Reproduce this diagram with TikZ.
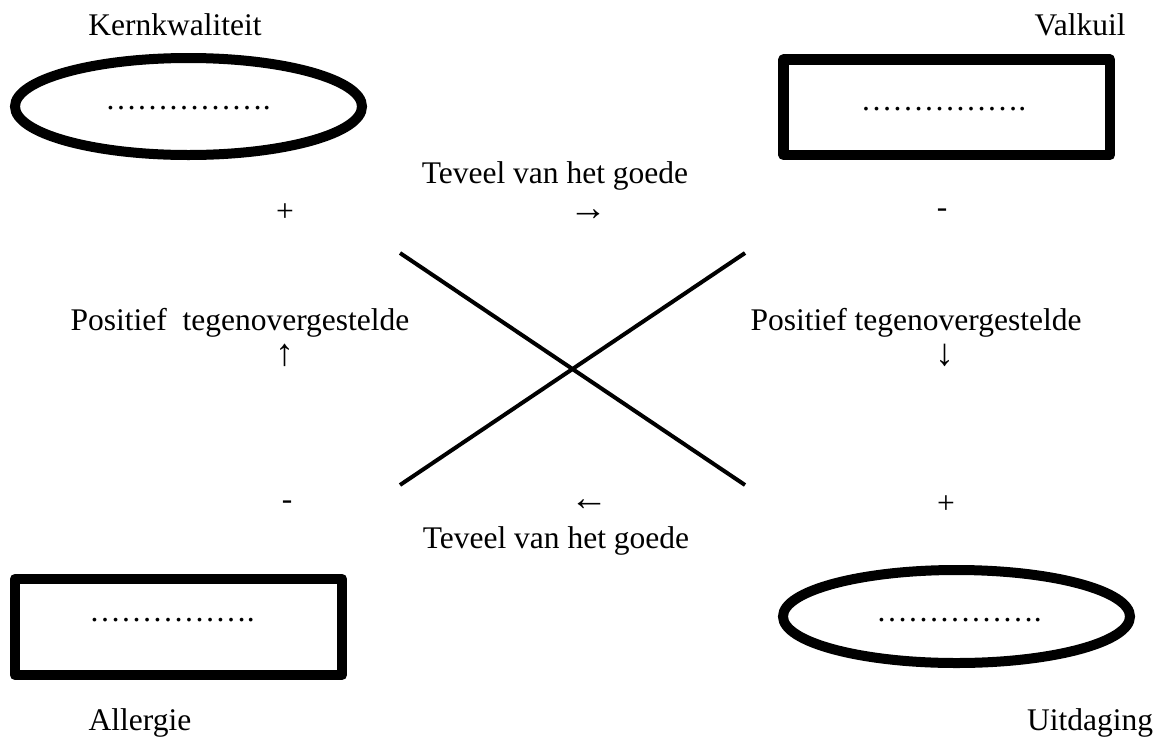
\documentclass[tikz,border=0pt]{standalone}
\usepackage{fontspec}
\setmainfont{Liberation Serif}
\usetikzlibrary{shapes.geometric}
\tikzset{
  lbl/.style={inner sep=0pt, outer sep=0pt, font=\fontsize{31.5}{38}\selectfont},
  arr/.style={inner sep=0pt, outer sep=0pt, font=\fontsize{38}{44}\selectfont},
  dots/.style={inner sep=0pt, outer sep=0pt, text height=3pt, text depth=0pt, font=\fontsize{31.5}{38}\selectfont},
  oval/.style={draw, ellipse, line width=10pt, inner sep=0pt, minimum width=347pt},
  box/.style={draw, rectangle, line width=10.5pt, line join=round, inner sep=0pt},
  cross/.style={line width=4pt}
}
\begin{document}
\begin{tikzpicture}[x=1pt, y=-1pt]
\useasboundingbox (0,0) rectangle (1167,737);
% shapes
\node[oval, minimum height=97pt] (kern) at (188.5,106.5) {};
\node[box, minimum width=326.5pt, minimum height=95.5pt] (valk) at (946.75,107.25) {};
\node[box, minimum width=327pt, minimum height=96pt] (allg) at (178.5,627) {};
\node[oval, minimum height=93pt] (uitd) at (956.5,616.5) {};
% dotted placeholders
\node[dots] (dk) at (188,108) {…………….};
\node[dots] (dv) at (943.5,109) {…………….};
\node[dots] (da) at (172,620) {…………….};
\node[dots] (du) at (959,620) {…………….};
% titles
\node[lbl, anchor=base] (tkern) at (175,35) {Kernkwaliteit};
\node[lbl, anchor=base] (tvalk) at (1080,35) {Valkuil};
\node[lbl, anchor=base] (tallg) at (140,730) {Allergie};
\node[lbl, anchor=base] (tuitd) at (1090,730) {Uitdaging};
% middle labels
\node[lbl, anchor=base] (tv1) at (555,183) {Teveel van het goede};
\node[arr] (ar1) at (588,215) {→};
\node[lbl] (pl1) at (285,213) {+};
\node[lbl] (mi1) at (942,213) {-};
\node[lbl, anchor=base] (po1) at (240,330) {Positief\ \ tegenovergestelde};
\node[lbl, anchor=base] (po2) at (916,330) {Positief tegenovergestelde};
\node[arr] (ar2) at (285,355) {↑};
\node[arr] (ar3) at (945,355) {↓};
\node[lbl] (mi2) at (287,505) {-};
\node[arr] (ar4) at (589,505) {←};
\node[lbl] (pl2) at (946,505) {+};
\node[lbl, anchor=base] (tv2) at (556,548) {Teveel van het goede};
% cross
\coordinate (a1) at (400,253);
\coordinate (a2) at (745,485);
\coordinate (b1) at (745,253);
\coordinate (b2) at (400,485);
\draw[cross] (a1) -- (a2);
\draw[cross] (b1) -- (b2);
\end{tikzpicture}
\end{document}
